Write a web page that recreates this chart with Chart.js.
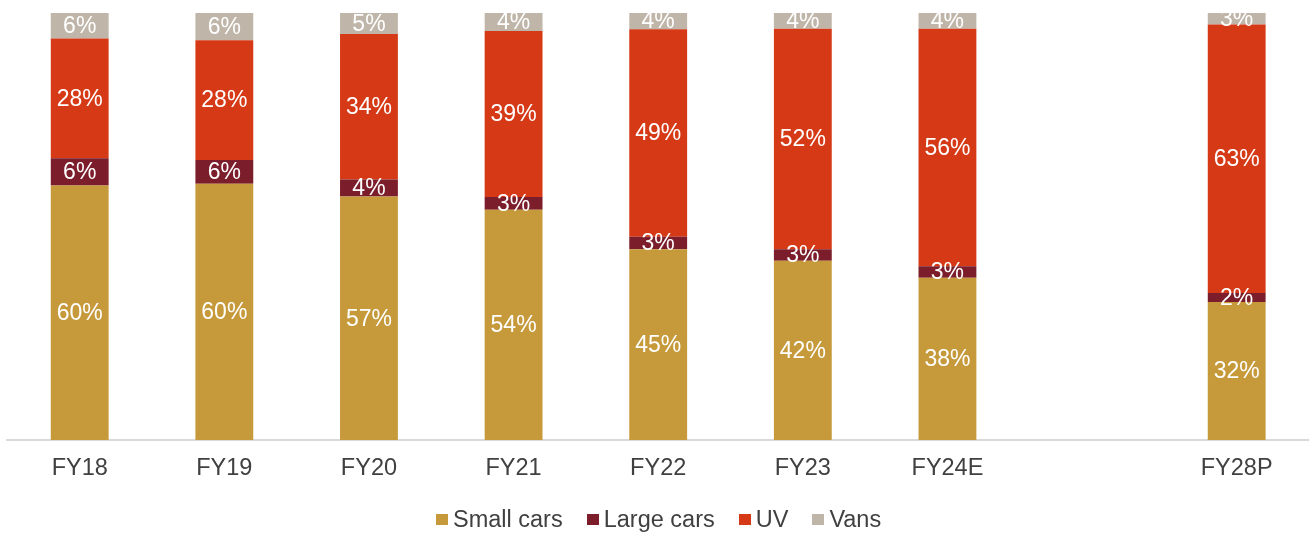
<!DOCTYPE html>
<html lang="en">
<head>
    <meta charset="UTF-8">
    <title>Passenger vehicle mix</title>
    <script src="https://cdn.jsdelivr.net/npm/chart.js"></script>
    <style>
        html, body {
            margin: 0;
            padding: 0;
            background: #ffffff;
        }

        .wrap {
            position: relative;
            width: 1309px;
            height: 533px;
        }

        #legend {
            position: absolute;
            left: 436px;
            top: 508px;
            display: flex;
            align-items: center;
            font-family: "Liberation Sans", Arial, sans-serif;
            font-size: 23.5px;
            line-height: 23.5px;
            color: #404040;
            white-space: nowrap;
        }

        #legend .item {
            display: flex;
            align-items: center;
            margin-right: 24px;
        }

        #legend .box {
            width: 12px;
            height: 11px;
            margin-right: 5px;
        }
    </style>
</head>
<body>
    <div class="wrap">
        <canvas id="mixChart" width="1309" height="533"></canvas>
        <div id="legend"></div>
    </div>

    <script>
        // categories (blank slot keeps the gap before FY28P)
        const years = ['FY18', 'FY19', 'FY20', 'FY21', 'FY22', 'FY23', 'FY24E', '', 'FY28P'];

        // share of volumes, %
        const smallCars = [59.6, 60.0, 57.0, 53.9, 44.7, 42.0, 38.0, null, 32.3];
        const largeCars = [6.4, 5.6, 4.0, 3.0, 2.9, 2.7, 2.7, null, 2.1];
        const uv = [28.0, 28.0, 34.1, 38.9, 48.6, 51.6, 55.6, null, 62.9];
        const vans = [6.0, 6.4, 4.9, 4.2, 3.8, 3.7, 3.7, null, 2.7];

        const seriesNames = ['Small cars', 'Large cars', 'UV', 'Vans'];
        const seriesColors = ['#C69A3B', '#7B1D2A', '#D53916', '#BFB6A9'];

        const FONT = '"Liberation Sans", Arial, sans-serif';

        // white % labels in the middle of each segment, clipped to the plot
        const segmentLabels = {
            id: 'segmentLabels',
            afterDatasetsDraw(chart) {
                const ctx = chart.ctx;
                const area = chart.chartArea;
                ctx.save();
                ctx.beginPath();
                ctx.rect(area.left, area.top, area.right - area.left, area.bottom - area.top);
                ctx.clip();
                ctx.font = '23px ' + FONT;
                ctx.fillStyle = '#ffffff';
                ctx.textAlign = 'center';
                ctx.textBaseline = 'middle';
                chart.data.datasets.forEach((ds, i) => {
                    const meta = chart.getDatasetMeta(i);
                    meta.data.forEach((bar, j) => {
                        const v = ds.data[j];
                        if (v === null || v === undefined) return;
                        ctx.fillText(Math.round(v) + '%', bar.x, (bar.y + bar.base) / 2 + 1);
                    });
                });
                ctx.restore();
            }
        };

        const ctx = document.getElementById('mixChart').getContext('2d');
        const chart = new Chart(ctx, {
            type: 'bar',
            data: {
                labels: years,
                datasets: [smallCars, largeCars, uv, vans].map((d, i) => ({
                    label: seriesNames[i],
                    data: d,
                    backgroundColor: seriesColors[i],
                    borderWidth: 0,
                    barPercentage: 0.4,
                    categoryPercentage: 1
                }))
            },
            options: {
                responsive: false,
                animation: false,
                layout: {
                    padding: { top: 13, left: 7.4, right: 0, bottom: 33 }
                },
                scales: {
                    x: {
                        stacked: true,
                        grid: { display: false, drawTicks: false },
                        border: { display: true, color: '#D9D9D9', width: 2 },
                        ticks: {
                            color: '#404040',
                            padding: 14.5,
                            font: { family: FONT, size: 23.5 }
                        },
                        afterFit(scale) {
                            scale.height = 60;
                        }
                    },
                    y: {
                        stacked: true,
                        display: false,
                        min: 0,
                        max: 100
                    }
                },
                plugins: {
                    legend: { display: false },
                    tooltip: { enabled: false }
                }
            },
            plugins: [segmentLabels]
        });

        // legend
        const legendEl = document.getElementById('legend');
        seriesNames.forEach((name, i) => {
            const item = document.createElement('span');
            item.className = 'item';
            const box = document.createElement('span');
            box.className = 'box';
            box.style.background = seriesColors[i];
            item.appendChild(box);
            item.appendChild(document.createTextNode(name));
            legendEl.appendChild(item);
        });
    </script>
</body>
</html>
